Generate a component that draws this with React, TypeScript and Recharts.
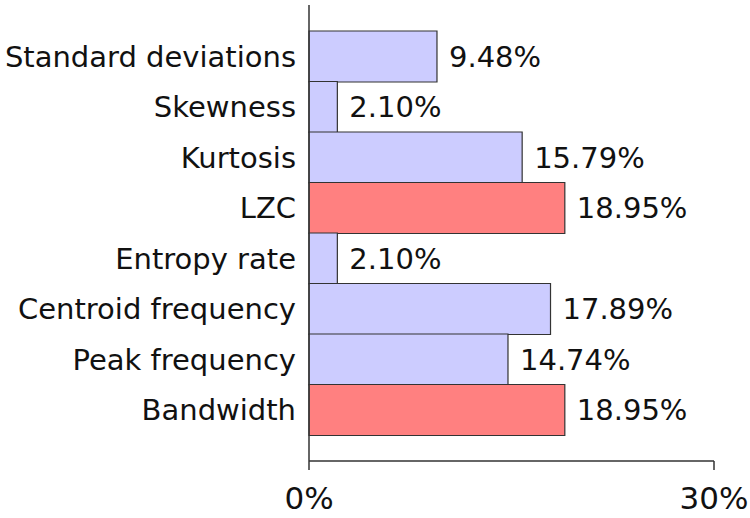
import React from 'react';
import { BarChart, Bar, XAxis, YAxis, Cell, LabelList } from 'recharts';

const categories = [
  'Standard deviations',
  'Skewness',
  'Kurtosis',
  'LZC',
  'Entropy rate',
  'Centroid frequency',
  'Peak frequency',
  'Bandwidth',
];
const percentages = [9.48, 2.1, 15.79, 18.95, 2.1, 17.89, 14.74, 18.95];
const highlighted = ['LZC', 'Bandwidth'];
const xTicks = [0, 30];

const data = categories.map((name, i) => ({ name, value: percentages[i] }));

const FONT = '"DejaVu Sans", sans-serif';
const FS = 29;

export default function App() {
  return (
    <div style={{ position: 'absolute', left: 0, top: 0, background: '#fff' }}>
      <BarChart
        width={750}
        height={518}
        data={data}
        layout="vertical"
        margin={{ top: 5, right: 36, bottom: 0, left: 0 }}
        barCategoryGap={0}
      >
        <XAxis
          type="number"
          domain={[0, 30]}
          ticks={xTicks}
          tickFormatter={(v: number) => `${v}%`}
          height={57}
          tickSize={9}
          tickMargin={17}
          stroke="#333"
          strokeWidth={1.5}
          tick={{ fill: '#111', fontSize: 31, fontFamily: FONT }}
        />
        <YAxis
          type="category"
          dataKey="name"
          width={309}
          padding={{ top: 26, bottom: 26 }}
          tickLine={false}
          tickSize={0}
          tickMargin={13}
          stroke="#333"
          strokeWidth={1.5}
          interval={0}
          tick={{ fill: '#111', fontSize: FS, fontFamily: FONT }}
        />
        <Bar dataKey="value" isAnimationActive={false} stroke="#333" strokeWidth={1.2}>
          {data.map((d) => (
            <Cell key={d.name} fill={highlighted.includes(d.name) ? '#ff8080' : '#ccccff'} />
          ))}
          <LabelList
            dataKey="value"
            position="right"
            offset={12}
            formatter={(v: number) => `${v.toFixed(2)}%`}
            style={{ fill: '#111', fontSize: FS, fontFamily: FONT }}
          />
        </Bar>
      </BarChart>
    </div>
  );
}
